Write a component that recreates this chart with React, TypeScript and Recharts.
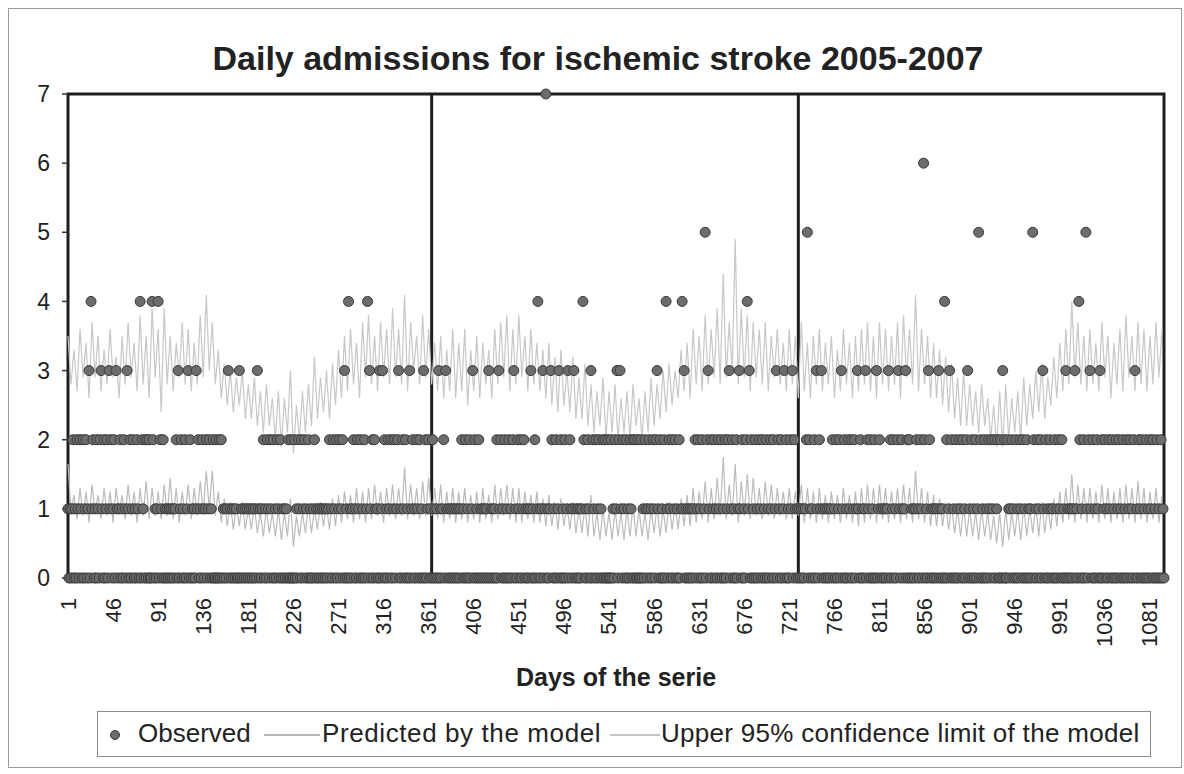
import React from 'react';
import { ComposedChart, Line, Scatter, XAxis, YAxis, ReferenceArea, ReferenceLine } from 'recharts';

// observed admissions, one digit per day, 50 days per row (days 1-1095)
const observedRows = [
  '10101201021021020120130412010210231020120312012031',
  '01201021031020120102104021020202004201014021020101',
  '01010101203012010201302010103120102101201201020020',
  '02020101013010101010030101010101010101031010120102',
  '10210201021020101010200200201021020120102010012010',
  '10101010101201021020120120301040101201021020102014',
  '03102021010301302010210201201230102102010301201021',
  '02010302012010201010301012031010101010101012010201',
  '02013020102010101010301010102031201020102010230102',
  '10201201010130102014010130170101320102013020102013',
  '02101301010101420102103021020120102020020020102130',
  '23102102010210202002002010210120102102310201020410',
  '21020120102014130101010101201201020150231020120102',
  '10201020123012010201310201024130201020102102010201',
  '02102013021020130201021302101010101012502101020310',
  '21301010101012010201203102010210201201310201013021',
  '02010203012010101013020120102310210130202010101201',
  '02106201032010101013010104020130201020102102010230',
  '10201020150201020102102102012002030200210120102010',
  '21020102010105201021020310201021010201021020103010',
  '10101301042010205102310201021030201201021020102012',
  '010201020120102301021020102010210201020102010',
];

// model prediction, one value every 3 days starting at day 1
const predicted = [
  1.65, 0.95, 1.2, 0.85, 1.3, 0.9, 1.25, 0.8, 1.35, 0.95,
  1.2, 0.85, 1.3, 0.9, 1.25, 0.8, 1.3, 0.95, 1.2, 0.85,
  1.35, 0.9, 1.25, 0.8, 1.3, 0.9, 1.4, 0.85, 1.3, 0.9,
  1.25, 0.85, 1.35, 0.9, 1.45, 0.85, 1.3, 0.8, 1.25, 0.9,
  1.35, 0.85, 1.3, 0.9, 1.4, 0.95, 1.55, 1.0, 1.55, 0.9,
  1.25, 0.8, 1.15, 0.75, 1.1, 0.7, 1.05, 0.75, 1.1, 0.7,
  1.0, 0.7, 1.05, 0.65, 0.95, 0.6, 1.0, 0.65, 0.95, 0.6,
  1.0, 0.55, 0.95, 0.6, 1.15, 0.45, 0.9, 0.6, 0.95, 0.65,
  1.05, 0.65, 1.0, 0.7, 1.1, 0.75, 1.05, 0.7, 1.15, 0.75,
  1.2, 0.8, 1.25, 0.85, 1.2, 0.8, 1.3, 0.85, 1.25, 0.8,
  1.3, 0.85, 1.35, 0.9, 1.25, 0.8, 1.3, 0.9, 1.35, 0.85,
  1.3, 0.9, 1.6, 0.85, 1.35, 0.9, 1.3, 0.85, 1.4, 0.9,
  1.45, 0.9, 1.3, 0.85, 1.35, 0.8, 1.25, 0.85, 1.3, 0.8,
  1.25, 0.85, 1.3, 0.8, 1.2, 0.85, 1.25, 0.8, 1.3, 0.85,
  1.2, 0.8, 1.35, 0.85, 1.3, 0.9, 1.35, 0.85, 1.3, 0.8,
  1.3, 0.8, 1.25, 0.85, 1.2, 0.8, 1.25, 0.8, 1.15, 0.75,
  1.2, 0.75, 1.1, 0.7, 1.15, 0.75, 1.05, 0.7, 1.1, 0.65,
  1.0, 0.65, 1.05, 0.6, 1.2, 0.6, 0.95, 0.55, 1.0, 0.6,
  0.95, 0.55, 1.0, 0.6, 0.95, 0.55, 1.0, 0.6, 1.05, 0.6,
  1.0, 0.6, 0.95, 0.55, 1.0, 0.65, 1.05, 0.6, 1.0, 0.65,
  1.1, 0.7, 1.05, 0.7, 1.15, 0.75, 1.2, 0.75, 1.3, 0.8,
  1.25, 0.85, 1.4, 0.8, 1.3, 0.85, 1.45, 0.9, 1.75, 0.85,
  1.35, 0.9, 1.65, 0.8, 1.4, 0.9, 1.5, 0.85, 1.45, 0.9,
  1.3, 0.85, 1.4, 0.9, 1.35, 0.85, 1.3, 0.9, 1.25, 0.85,
  1.3, 0.85, 1.25, 0.9, 1.35, 0.8, 1.3, 0.85, 1.25, 0.8,
  1.3, 0.85, 1.2, 0.8, 1.25, 0.85, 1.2, 0.8, 1.3, 0.85,
  1.2, 0.8, 1.25, 0.75, 1.3, 0.8, 1.35, 0.85, 1.3, 0.8,
  1.35, 0.85, 1.3, 0.8, 1.25, 0.85, 1.3, 0.8, 1.35, 0.85,
  1.3, 0.8, 1.55, 0.85, 1.3, 0.8, 1.25, 0.75, 1.2, 0.75,
  1.15, 0.75, 1.1, 0.7, 1.05, 0.65, 1.0, 0.6, 1.05, 0.6,
  1.0, 0.6, 0.95, 0.55, 1.0, 0.6, 0.95, 0.55, 0.9, 0.5,
  0.95, 0.45, 1.0, 0.55, 0.95, 0.6, 1.0, 0.55, 1.05, 0.6,
  1.0, 0.65, 1.05, 0.6, 1.1, 0.65, 1.05, 0.7, 1.15, 0.75,
  1.25, 0.8, 1.3, 0.85, 1.5, 0.8, 1.35, 0.85, 1.3, 0.8,
  1.3, 0.85, 1.25, 0.8, 1.35, 0.85, 1.3, 0.8, 1.25, 0.85,
  1.3, 0.8, 1.35, 0.85, 1.3, 0.8, 1.4, 0.85, 1.3, 0.8,
  1.25, 0.85, 1.3, 0.8, 1.2,
];

// upper 95% limit, same days as predicted
const upperLimit = [
  3.5, 2.8, 3.3, 2.7, 3.6, 2.9, 3.4, 2.6, 3.7, 2.9,
  3.5, 2.7, 3.3, 2.8, 3.6, 2.9, 3.2, 2.6, 3.5, 2.8,
  3.7, 2.9, 3.4, 2.7, 3.8, 2.8, 3.5, 2.6, 3.9, 2.9,
  3.6, 2.4, 3.9, 2.8, 3.5, 2.7, 3.4, 2.9, 3.7, 2.8,
  3.6, 2.7, 3.4, 2.8, 3.8, 2.9, 4.1, 3.0, 3.7, 2.8,
  3.3, 2.6, 3.1, 2.5, 3.0, 2.4, 2.9, 2.5, 3.0, 2.3,
  2.8, 2.3, 2.9, 2.2, 2.7, 2.1, 2.8, 2.2, 2.6, 2.0,
  2.7, 1.9, 2.6, 2.1, 3.0, 1.8, 2.5, 2.0, 2.7, 2.1,
  2.8, 2.2, 3.2, 2.3, 2.9, 2.4, 3.0, 2.3, 3.1, 2.5,
  3.3, 2.6, 3.5, 2.7, 3.6, 2.8, 3.4, 2.6, 3.7, 2.9,
  3.8, 2.8, 3.5, 2.7, 3.7, 2.9, 3.6, 2.8, 3.9, 2.9,
  3.6, 2.8, 4.1, 2.7, 3.7, 3.0, 3.5, 2.8, 3.8, 2.9,
  3.6, 2.8, 3.4, 2.7, 3.5, 2.6, 3.3, 2.7, 3.6, 2.6,
  3.4, 2.7, 3.6, 2.5, 3.3, 2.7, 3.5, 2.6, 3.4, 2.8,
  3.3, 2.6, 3.6, 2.8, 3.7, 2.9, 3.8, 2.7, 3.6, 2.8,
  3.8, 2.9, 3.5, 2.7, 3.6, 2.8, 3.4, 2.7, 3.3, 2.6,
  3.4, 2.5, 3.2, 2.4, 3.3, 2.5, 3.0, 2.4, 3.2, 2.3,
  2.9, 2.3, 3.1, 2.2, 2.8, 2.1, 2.7, 2.2, 2.9, 2.0,
  2.7, 2.1, 2.8, 2.0, 2.6, 2.1, 2.7, 2.0, 2.8, 2.2,
  2.6, 2.0, 2.7, 2.1, 2.9, 2.2, 2.8, 2.3, 3.0, 2.4,
  3.1, 2.5, 3.0, 2.6, 3.3, 2.7, 3.4, 2.6, 3.6, 2.8,
  3.5, 2.7, 3.8, 2.8, 3.6, 2.9, 3.9, 2.8, 4.4, 2.9,
  3.7, 3.0, 4.9, 2.8, 3.9, 2.9, 3.8, 2.7, 3.7, 2.9,
  3.6, 2.8, 3.7, 2.7, 3.5, 2.9, 3.6, 2.8, 3.4, 2.7,
  3.6, 2.8, 3.5, 2.6, 3.7, 2.7, 3.4, 2.6, 3.5, 2.8,
  3.6, 2.7, 3.4, 2.8, 3.5, 2.6, 3.3, 2.7, 3.6, 2.8,
  3.4, 2.6, 3.5, 2.7, 3.6, 2.8, 3.7, 2.7, 3.5, 2.6,
  3.7, 2.8, 3.6, 2.7, 3.5, 2.8, 3.7, 2.6, 3.8, 2.9,
  3.6, 2.8, 4.1, 2.7, 3.6, 2.8, 3.5, 2.6, 3.4, 2.6,
  3.3, 2.5, 3.2, 2.4, 3.1, 2.3, 2.9, 2.2, 3.0, 2.2,
  2.8, 2.2, 2.7, 2.1, 2.8, 2.2, 2.6, 2.0, 2.5, 1.9,
  2.7, 1.9, 2.8, 2.0, 2.6, 2.1, 2.7, 2.0, 2.9, 2.2,
  2.8, 2.3, 3.0, 2.4, 3.1, 2.3, 2.9, 2.5, 3.2, 2.6,
  3.4, 2.7, 3.6, 2.8, 4.0, 2.9, 3.7, 2.8, 3.5, 2.7,
  3.6, 2.8, 3.4, 2.7, 3.7, 2.9, 3.5, 2.6, 3.4, 2.8,
  3.6, 2.7, 3.8, 2.9, 3.5, 2.7, 3.7, 2.8, 3.6, 2.7,
  3.5, 2.8, 3.7, 2.9, 3.6,
];

const xTicks = [1, 46, 91, 136, 181, 226, 271, 316, 361, 406, 451, 496, 541, 586, 631, 676, 721, 766, 811, 856, 901, 946, 991, 1036, 1081];
const yTicks = [0, 1, 2, 3, 4, 5, 6, 7];
const yearBreaks = [364, 730];

const observedData = observedRows.join('').split('').map((c, i) => ({ day: i + 1, value: Number(c) }));
const predictedData = predicted.map((v, i) => ({ day: 1 + i * 3, value: v }));
const upperData = upperLimit.map((v, i) => ({ day: 1 + i * 3, value: v }));

const font = '"Liberation Sans", Arial, sans-serif';

const ObservedDot = (props: any) => (
  <circle cx={props.cx} cy={props.cy} r={5} fill="#6c6c6c" stroke="#3a3a3a" strokeWidth={1} />
);

const DayTick = ({ x, y, payload }: any) => (
  <text
    x={x}
    y={y}
    transform={`rotate(-90, ${x}, ${y})`}
    textAnchor="end"
    dominantBaseline="central"
    fontSize={22}
    fontFamily={font}
    fill="#222"
  >
    {payload.value}
  </text>
);

export default function App() {
  return (
    <div style={{ position: 'absolute', left: 0, top: 0, width: 1184, height: 774, background: '#fff', fontFamily: font }}>
      <div style={{ position: 'absolute', left: 8, top: 8, width: 1172, height: 758, border: '1px solid #9a9a9a' }} />
      <div style={{ position: 'absolute', left: 0, width: 1196, top: 39, textAlign: 'center', fontSize: 34, fontWeight: 'bold', color: '#222' }}>
        Daily admissions for ischemic stroke 2005-2007
      </div>
      <ComposedChart width={1184} height={774} margin={{ top: 94, right: 20, bottom: 96, left: 10 }}>
        <XAxis
          type="number"
          dataKey="day"
          domain={[1, 1095]}
          ticks={xTicks}
          interval={0}
          tick={<DayTick />}
          tickLine={false}
          axisLine={false}
          tickSize={0}
          tickMargin={20}
          height={100}
        />
        <YAxis
          type="number"
          domain={[0, 7]}
          ticks={yTicks}
          width={58}
          axisLine={false}
          tickLine={{ stroke: '#333', strokeWidth: 1.5 }}
          tickSize={6}
          tickMargin={12}
          tick={{ fontSize: 23, fill: '#222', fontFamily: font }}
        />
        <ReferenceArea x1={1} x2={1095} y1={0} y2={7} fill="none" stroke="#1e1e1e" strokeWidth={3} />
        {yearBreaks.map((d) => (
          <ReferenceLine key={d} x={d} stroke="#1e1e1e" strokeWidth={3} />
        ))}
        <Line data={upperData} dataKey="value" type="linear" stroke="#c8c8c8" strokeWidth={1.2} dot={false} isAnimationActive={false} />
        <Line data={predictedData} dataKey="value" type="linear" stroke="#bcbcbc" strokeWidth={1.2} dot={false} isAnimationActive={false} />
        <Scatter data={observedData} dataKey="value" shape={<ObservedDot />} isAnimationActive={false} />
      </ComposedChart>
      <div style={{ position: 'absolute', left: 0, width: 1232, top: 663, textAlign: 'center', fontSize: 25, fontWeight: 'bold', color: '#222' }}>
        Days of the serie
      </div>
      <div style={{ position: 'absolute', left: 97, top: 711, width: 1052, height: 44, border: '1px solid #8a8a8a', fontSize: 26, color: '#222' }}>
        <svg width={50} height={44} style={{ position: 'absolute', left: 0, top: 0 }}>
          <circle cx={17} cy={23} r={4.5} fill="#6c6c6c" stroke="#3a3a3a" />
        </svg>
        <span style={{ position: 'absolute', left: 40, top: 6 }}>Observed</span>
        <svg width={60} height={44} style={{ position: 'absolute', left: 164, top: 0 }}>
          <line x1={2} x2={58} y1={23} y2={23} stroke="#b8b8b8" strokeWidth={2} />
        </svg>
        <span style={{ position: 'absolute', left: 224, top: 6, letterSpacing: 0.6 }}>Predicted by the model</span>
        <svg width={60} height={44} style={{ position: 'absolute', left: 510, top: 0 }}>
          <line x1={2} x2={52} y1={23} y2={23} stroke="#c4c4c4" strokeWidth={2} />
        </svg>
        <span style={{ position: 'absolute', left: 563, top: 6, letterSpacing: 0.3 }}>Upper 95% confidence limit of the model</span>
      </div>
    </div>
  );
}
